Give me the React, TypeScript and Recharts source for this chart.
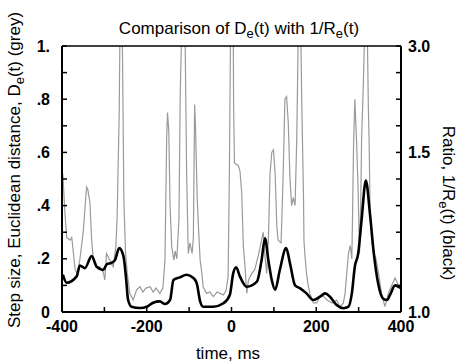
import React from 'react'
import { LineChart, Line, XAxis, YAxis, Label } from 'recharts'

// grey trace: step size D_e(t)
const greyTime = [
  -398, -393, -389, -381, -377, -373, -369, -365, -362, -358, -350, -342, -339, -334, -330, -326,
  -320, -310, -302, -299, -295, -289, -279, -273, -270, -265, -263, -258, -254, -250, -246, -240,
  -232, -224, -216, -209, -202, -192, -185, -178, -169, -162, -157, -153, -151, -148, -145, -141,
  -136, -133, -129, -124, -121, -117, -110, -107, -106, -102, -98, -93, -90, -87, -85, -81, -78,
  -74, -70, -67, -59, -51, -43, -34, -27, -19, -13, -8, -5, -2, 4, 5, 7, 16, 20, 24, 28, 32, 36,
  40, 48, 55, 63, 71, 75, 79, 83, 87, 91, 95, 99, 103, 107, 110, 117, 122, 126, 130, 134, 138,
  142, 146, 150, 154, 158, 163, 166, 168, 170, 171, 173, 177, 181, 185, 193, 201, 209, 217, 225,
  237, 248, 256, 264, 268, 272, 276, 280, 284, 286, 288, 291, 295, 299, 302, 305, 307, 311, 315,
  320, 323, 325, 327, 331, 335, 341, 347, 354, 362, 370, 378, 386, 394, 398
]
const greyValue = [
  0.52, 0.37, 0.28, 0.27, 0.28, 0.22, 0.16, 0.146, 0.16, 0.195, 0.3, 0.47, 0.46, 0.41, 0.27, 0.195,
  0.17, 0.17, 0.146, 0.12, 0.22, 0.2, 0.17, 0.245, 0.35, 0.75, 1.1, 1.1, 0.42, 0.22, 0.146, 0.07,
  0.045, 0.083, 0.095, 0.075, 0.09, 0.095, 0.075, 0.09, 0.07, 0.09, 0.195, 0.65, 0.75, 0.68, 0.4, 0.245,
  0.195, 0.23, 0.2, 0.35, 0.82, 1.1, 1.1, 0.68, 0.53, 0.22, 0.26, 0.22, 0.28, 0.78, 0.7, 0.43, 0.32,
  0.195, 0.146, 0.095, 0.07, 0.075, 0.058, 0.075, 0.07, 0.064, 0.08, 0.133, 0.52, 1.1, 1.1, 0.77, 0.56, 0.55, 0.53, 0.45, 0.245, 0.17, 0.07,
  0.12, 0.145, 0.16, 0.21, 0.27, 0.3, 0.21, 0.145, 0.27, 0.52, 0.6, 0.61, 0.52, 0.32, 0.27, 0.26, 0.52, 0.8, 0.81, 0.71, 0.5,
  0.4, 0.43, 0.4, 0.65, 1.1, 1.1, 0.77, 0.6, 0.42, 0.27, 0.22, 0.145, 0.1, 0.07, 0.034, 0.034, 0.06, 0.06, 0.045,
  0.034, 0.045, 0.02, 0.034, 0.07, 0.145, 0.22, 0.25, 0.2, 0.4, 0.62, 0.8, 0.65, 0.45, 0.22, 0.4, 0.65, 0.85, 1.1,
  1.1, 0.77, 0.62, 0.37, 0.27, 0.22, 0.2, 0.145, 0.07, 0.02, 0.07, 0.1, 0.128, 0.1, 0.095
]

// black trace: ratio 1/R_e(t), in units of the right axis height
const blackTime = [
  -398, -389, -365, -358, -346, -330, -318, -303, -294, -283, -275, -265, -255, -249, -244, -236,
  -216, -200, -185, -169, -157, -145, -137, -122, -106, -90, -82, -74, -67, -43, -19, -4, 4, 11,
  20, 36, 60, 71, 79, 87, 95, 103, 114, 129, 138, 150, 162, 177, 193, 209, 221, 232, 248, 264,
  276, 284, 291, 299, 307, 317, 327, 335, 346, 358, 367, 374, 386, 394, 400
]
const blackValue = [
  0.14, 0.11, 0.135, 0.175, 0.165, 0.21, 0.17, 0.158, 0.18, 0.185, 0.195, 0.24, 0.21, 0.13, 0.045, 0.02,
  0.015, 0.02, 0.035, 0.04, 0.03, 0.045, 0.12, 0.13, 0.14, 0.128, 0.108, 0.04, 0.02, 0.02, 0.033, 0.064, 0.145, 0.168,
  0.133, 0.095, 0.114, 0.195, 0.277, 0.195, 0.12, 0.083, 0.158, 0.24, 0.183, 0.1, 0.089, 0.07, 0.045, 0.058, 0.07, 0.058, 0.026, 0.014,
  0.02, 0.07, 0.17, 0.22, 0.346, 0.494, 0.365, 0.233, 0.108, 0.05, 0.045, 0.064, 0.1, 0.095, 0.09
]

const timeTicks = [-400, -300, -200, -100, 0, 100, 200, 300, 400]
const leftTicks = [0, 0.1, 0.2, 0.3, 0.4, 0.5, 0.6, 0.7, 0.8, 0.9, 1]
const leftLabels = ['0', '', '.2', '', '.4', '', '.6', '', '.8', '', '1.']
const rightLabels = ['1.0', '', '', '', '', '', '1.5', '', '', '', '3.0']

const grey = greyTime.map((t, i) => ({ t, v: greyValue[i] }))
const black = blackTime.map((t, i) => ({ t, v: blackValue[i] }))

const FONT = '"Liberation Sans", Arial, Helvetica, sans-serif'
const tickStyle = { fontSize: 16, fontWeight: 'bold', fill: '#000', fontFamily: FONT }

export default function App() {
  return (
    <div style={{ position: 'absolute', left: 0, top: 0, width: 460, height: 364, background: '#fff' }}>
      <LineChart width={460} height={364} margin={{ top: 40, right: 20, bottom: 22, left: 22 }}>
        <XAxis
          xAxisId="bottom"
          dataKey="t"
          type="number"
          domain={[-400, 400]}
          ticks={timeTicks}
          interval={0}
          allowDataOverflow
          height={30}
          tickSize={-5}
          tickMargin={14}
          tick={tickStyle}
          tickFormatter={(v: number) => (v % 200 === 0 ? String(v) : '')}
          axisLine={{ stroke: '#000', strokeWidth: 2 }}
          tickLine={{ stroke: '#000', strokeWidth: 1.5 }}
        >
          <Label
            content={() => (
              <text x={228} y={359} textAnchor="middle" fontSize={17} fontFamily={FONT} fill="#000">
                time, ms
              </text>
            )}
          />
        </XAxis>
        <XAxis
          xAxisId="top"
          orientation="top"
          dataKey="t"
          type="number"
          domain={[-400, 400]}
          ticks={timeTicks}
          interval={0}
          height={6}
          tickSize={-5}
          tick={false}
          axisLine={{ stroke: '#000', strokeWidth: 1.5 }}
          tickLine={{ stroke: '#000', strokeWidth: 1.5 }}
        >
          <Label
            content={() => (
              <text x={239} y={34} textAnchor="middle" fontSize={17} fontFamily={FONT} fill="#000">
                Comparison of D<tspan dy={4} fontSize={13}>e</tspan>
                <tspan dy={-4}>(t) with 1/R</tspan>
                <tspan dy={4} fontSize={13}>e</tspan>
                <tspan dy={-4}>(t)</tspan>
              </text>
            )}
          />
        </XAxis>
        <YAxis
          yAxisId="left"
          type="number"
          domain={[0, 1]}
          ticks={leftTicks}
          interval={0}
          allowDataOverflow
          width={40}
          tickSize={-5}
          tickMargin={17}
          tick={tickStyle}
          tickFormatter={(_v: number, i: number) => leftLabels[i]}
          axisLine={{ stroke: '#000', strokeWidth: 2 }}
          tickLine={{ stroke: '#000', strokeWidth: 1.5 }}
        >
          <Label
            content={() => (
              <text
                x={0}
                y={0}
                transform="translate(20,170) rotate(-90)"
                textAnchor="middle"
                fontSize={17}
                fontFamily={FONT}
                fill="#000"
              >
                Step size, Euclidean distance, D<tspan dy={4} fontSize={13}>e</tspan>
                <tspan dy={-4}>(t) (grey)</tspan>
              </text>
            )}
          />
        </YAxis>
        <YAxis
          yAxisId="right"
          orientation="right"
          type="number"
          domain={[0, 1]}
          ticks={leftTicks}
          interval={0}
          allowDataOverflow
          width={39}
          tickSize={-5}
          tickMargin={12}
          tick={tickStyle}
          tickFormatter={(_v: number, i: number) => rightLabels[i]}
          axisLine={{ stroke: '#000', strokeWidth: 2 }}
          tickLine={{ stroke: '#000', strokeWidth: 1.5 }}
        >
          <Label
            content={() => (
              <text
                x={0}
                y={0}
                transform="translate(443,203) rotate(90)"
                textAnchor="middle"
                fontSize={17}
                fontFamily={FONT}
                fill="#000"
              >
                Ratio, 1/R<tspan dy={4} fontSize={13}>e</tspan>
                <tspan dy={-4}>(t) (black)</tspan>
              </text>
            )}
          />
        </YAxis>
        <Line
          xAxisId="bottom"
          yAxisId="left"
          data={grey}
          dataKey="v"
          type="linear"
          stroke="#9a9a9a"
          strokeWidth={1.2}
          dot={false}
          isAnimationActive={false}
        />
        <Line
          xAxisId="bottom"
          yAxisId="right"
          data={black}
          dataKey="v"
          type="monotone"
          stroke="#000"
          strokeWidth={2.6}
          dot={false}
          isAnimationActive={false}
        />
      </LineChart>
    </div>
  )
}
